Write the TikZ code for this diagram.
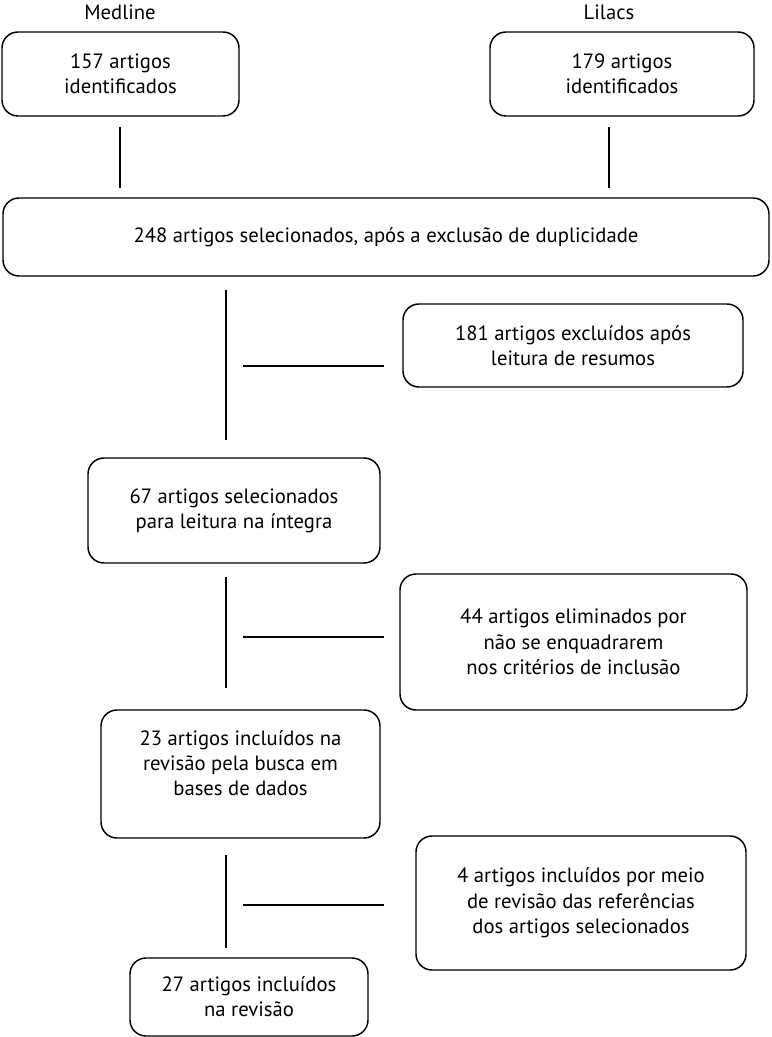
\documentclass[tikz,border=0pt]{standalone}
\usepackage{fontspec}
\setmainfont{PT Sans}
\begin{document}
\begin{tikzpicture}[x=0.75pt,y=-0.75pt,
  box/.style={draw,line width=1.1pt,rounded corners=12pt,inner sep=0pt,align=center},
  lbl/.style={inner sep=0pt},
  conn/.style={line width=1.1pt},
  every node/.style={font=\fontsize{15.5}{19}\selectfont}]
\useasboundingbox (0,0) rectangle (771,1037);
\node[lbl] (medl) at (120,12) {Medline};
\node[lbl] (lil) at (609,12) {Lilacs};
\node[box,minimum width=177.75pt,minimum height=63pt] (med) at (120.5,74) {157 artigos\\identificados};
\node[box,minimum width=198pt,minimum height=63pt] (lila) at (622,74) {179 artigos\\identificados};
\node[box,minimum width=574.5pt,minimum height=58.5pt] (sel) at (386,237) {248 artigos selecionados, após a exclusão de duplicidade};
\node[box,minimum width=255pt,minimum height=62.25pt] (exc) at (573,345.5) {181 artigos excluídos após\\leitura de resumos};
\node[box,minimum width=219pt,minimum height=78.75pt] (int) at (234,510.5) {67 artigos selecionados\\para leitura na íntegra};
\node[box,minimum width=260.25pt,minimum height=102pt] (eli) at (573.5,642) {44 artigos eliminados por\\não se enquadrarem\\nos critérios de inclusão};
\node[box,minimum width=209.25pt,minimum height=96pt] (inc) at (240.5,774) {23 artigos incluídos na\\revisão pela busca em\\bases de dados\\[-2.5pt]\mbox{}};
\node[box,minimum width=247.5pt,minimum height=100.5pt] (ref) at (581,903) {4 artigos incluídos por meio\\de revisão das referências\\dos artigos selecionados};
\node[box,minimum width=178.5pt,minimum height=58.5pt] (fin) at (249,997) {27 artigos incluídos\\na revisão};
\coordinate (m1) at (120,127); \coordinate (m2) at (120,188);
\coordinate (l1) at (609,127); \coordinate (l2) at (609,188);
\coordinate (a1) at (226,290); \coordinate (a2) at (226,440);
\coordinate (ah1) at (243,366); \coordinate (ah2) at (384,366);
\coordinate (b1) at (226,577); \coordinate (b2) at (226,688);
\coordinate (bh1) at (243,637); \coordinate (bh2) at (384,637);
\coordinate (c1) at (226,855); \coordinate (c2) at (226,948);
\coordinate (ch1) at (243,905); \coordinate (ch2) at (384,905);
\draw[conn] (m1) -- (m2);
\draw[conn] (l1) -- (l2);
\draw[conn] (a1) -- (a2);
\draw[conn] (ah1) -- (ah2);
\draw[conn] (b1) -- (b2);
\draw[conn] (bh1) -- (bh2);
\draw[conn] (c1) -- (c2);
\draw[conn] (ch1) -- (ch2);
\end{tikzpicture}
\end{document}
